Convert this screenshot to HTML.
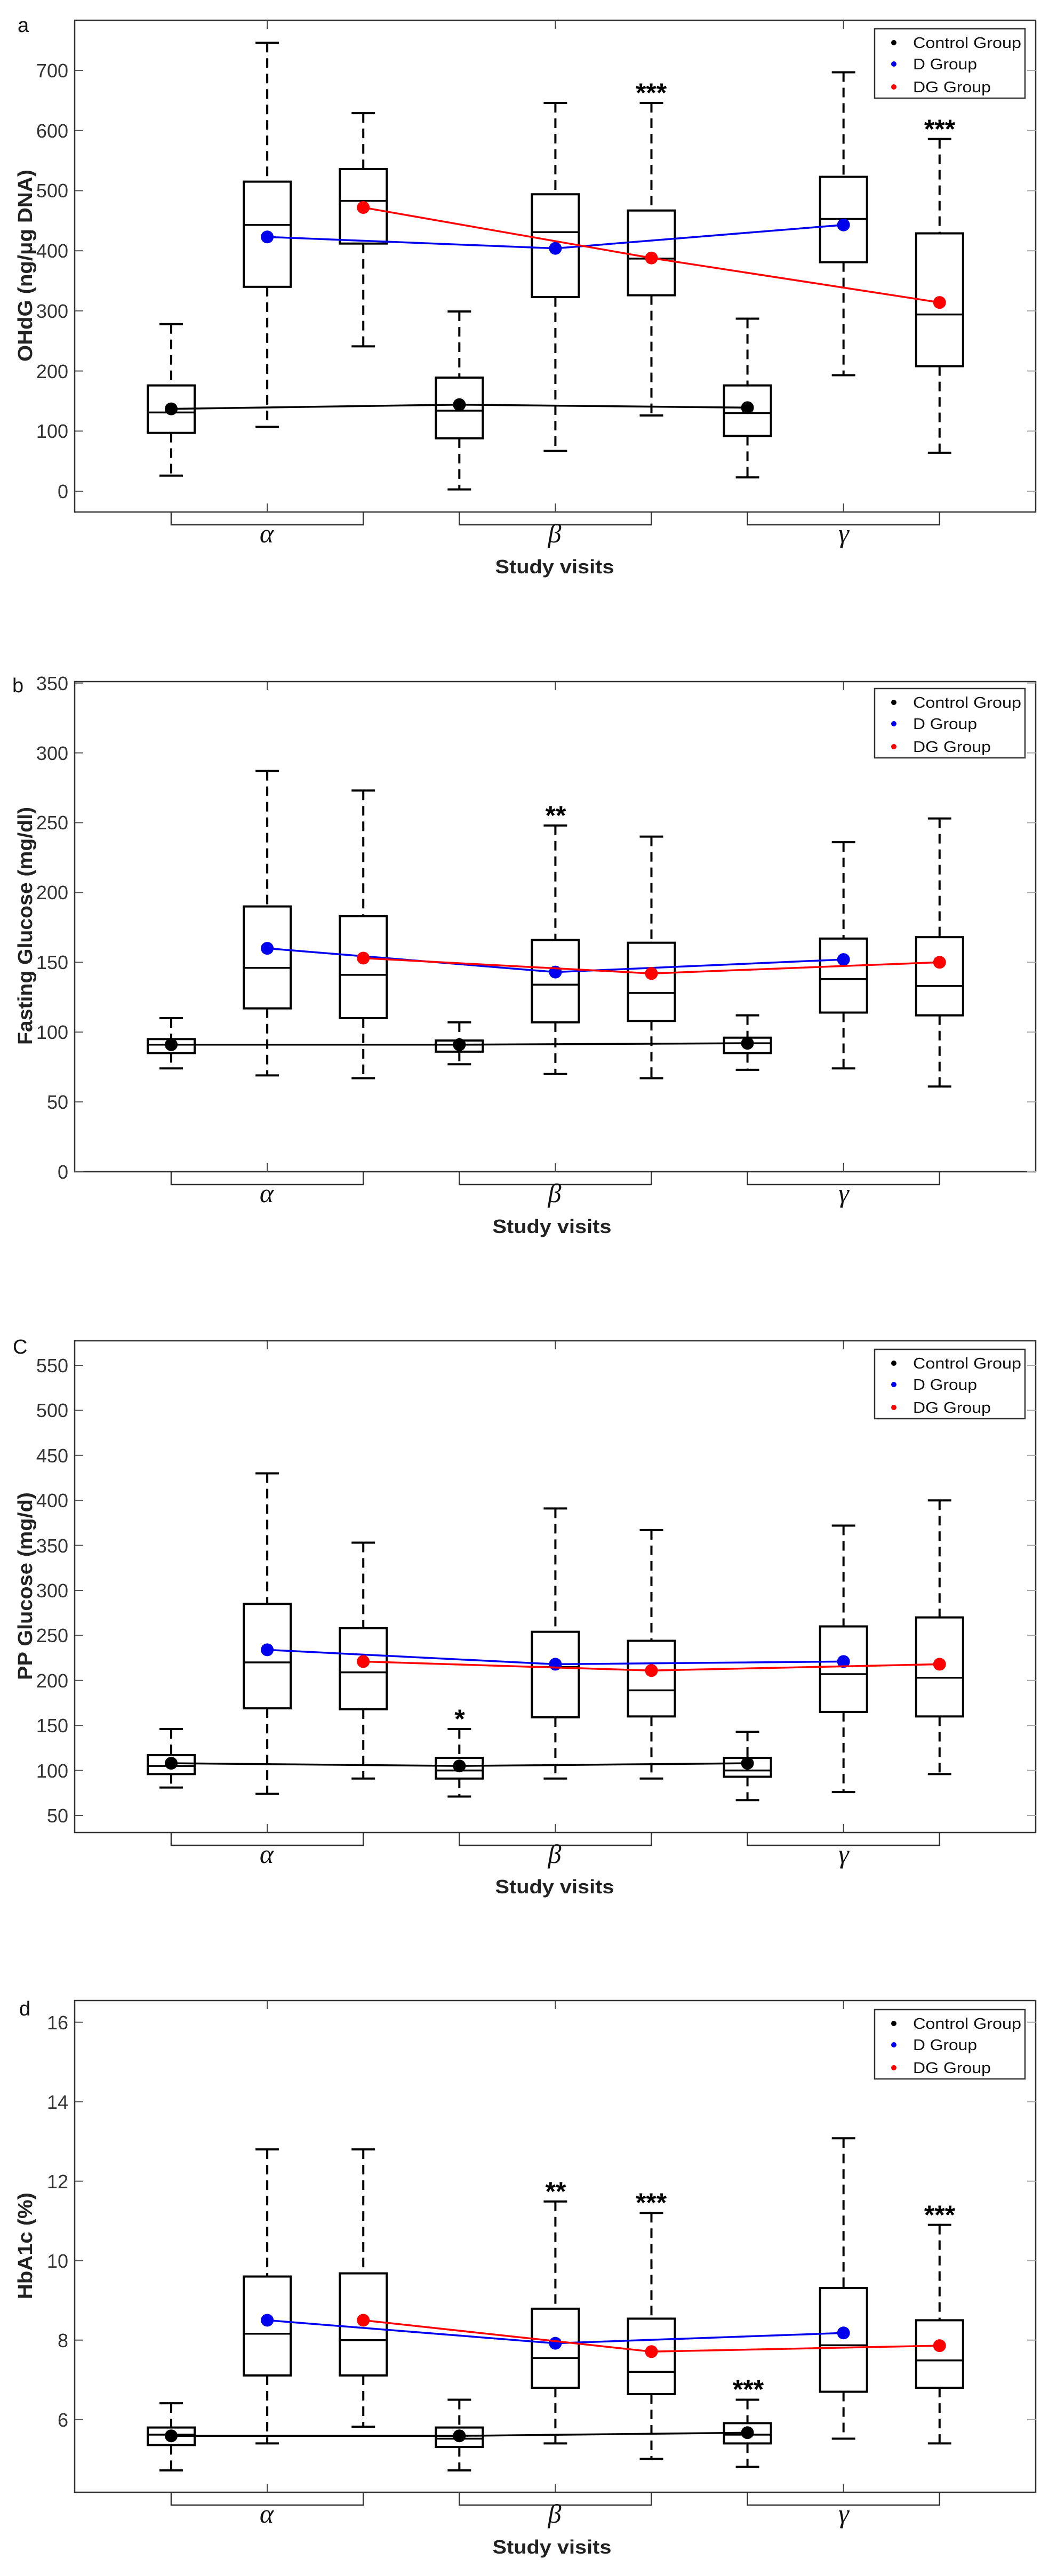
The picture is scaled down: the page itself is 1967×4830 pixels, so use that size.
<!DOCTYPE html>
<html><head><meta charset="utf-8"><style>
html,body{margin:0;padding:0;background:#fff}
svg{display:block}
text{font-family:"Liberation Sans",Arial,sans-serif}
.tk{font-size:36px;fill:#333;text-anchor:end}
.lg{font-size:29px;fill:#111}
.yl{font-size:38px;font-weight:bold;fill:#222;text-anchor:middle}
.sv{font-size:36px;font-weight:bold;fill:#222;text-anchor:middle}
.gr{font-family:"Liberation Serif",serif;font-style:italic;font-size:50px;fill:#111;text-anchor:middle}
.st{font-size:50px;font-weight:bold;fill:#000;text-anchor:middle}
.pl{font-size:38px;fill:#111}
</style></head><body>
<svg id="s" width="1967" height="4830" viewBox="0 0 1967 4830" xmlns="http://www.w3.org/2000/svg">
<rect width="1967" height="4830" fill="#fff"/>
<g id="g"></g>

<!-- Panel a text -->
<text class="pl" x="33" y="60">a</text>
<text class="tk" x="128" y="934">0</text><text class="tk" x="128" y="821">100</text><text class="tk" x="128" y="709">200</text><text class="tk" x="128" y="596">300</text><text class="tk" x="128" y="483">400</text><text class="tk" x="128" y="370">500</text><text class="tk" x="128" y="258">600</text><text class="tk" x="128" y="145">700</text>
<text class="yl" transform="translate(60,498) rotate(-90)" textLength="360" lengthAdjust="spacingAndGlyphs">OHdG (ng/μg DNA)</text>
<text class="gr" x="500" y="1017">α</text><text class="gr" x="1040" y="1017">β</text><text class="gr" x="1582" y="1017">γ</text>
<text class="sv" x="1040" y="1075" textLength="223" lengthAdjust="spacingAndGlyphs">Study visits</text>
<text class="st" x="1221" y="191">***</text><text class="st" x="1762" y="259">***</text>
<text class="lg" x="1712" y="90" textLength="203" lengthAdjust="spacingAndGlyphs">Control Group</text>
<text class="lg" x="1712" y="130" textLength="120" lengthAdjust="spacingAndGlyphs">D Group</text>
<text class="lg" x="1712" y="173" textLength="146" lengthAdjust="spacingAndGlyphs">DG Group</text>

<!-- Panel b text -->
<text class="pl" x="23" y="1298">b</text>
<text class="tk" x="128" y="2210">0</text><text class="tk" x="128" y="2079">50</text><text class="tk" x="128" y="1948">100</text><text class="tk" x="128" y="1817">150</text><text class="tk" x="128" y="1686">200</text><text class="tk" x="128" y="1555">250</text><text class="tk" x="128" y="1425">300</text><text class="tk" x="128" y="1294">350</text>
<text class="yl" transform="translate(60,1736) rotate(-90)" textLength="446" lengthAdjust="spacingAndGlyphs">Fasting Glucose (mg/dl)</text>
<text class="gr" x="500" y="2254">α</text><text class="gr" x="1040" y="2254">β</text><text class="gr" x="1582" y="2254">γ</text>
<text class="sv" x="1035" y="2312" textLength="223" lengthAdjust="spacingAndGlyphs">Study visits</text>
<text class="st" x="1042" y="1546">**</text>
<text class="lg" x="1712" y="1327" textLength="203" lengthAdjust="spacingAndGlyphs">Control Group</text>
<text class="lg" x="1712" y="1367" textLength="120" lengthAdjust="spacingAndGlyphs">D Group</text>
<text class="lg" x="1712" y="1410" textLength="146" lengthAdjust="spacingAndGlyphs">DG Group</text>

<!-- Panel c text -->
<text class="pl" x="24" y="2538">C</text>
<text class="tk" x="128" y="3417">50</text><text class="tk" x="128" y="3333">100</text><text class="tk" x="128" y="3248">150</text><text class="tk" x="128" y="3164">200</text><text class="tk" x="128" y="3079">250</text><text class="tk" x="128" y="2995">300</text><text class="tk" x="128" y="2911">350</text><text class="tk" x="128" y="2826">400</text><text class="tk" x="128" y="2742">450</text><text class="tk" x="128" y="2657">500</text><text class="tk" x="128" y="2573">550</text>
<text class="yl" transform="translate(60,2974) rotate(-90)" textLength="352" lengthAdjust="spacingAndGlyphs">PP Glucose (mg/d)</text>
<text class="gr" x="500" y="3493">α</text><text class="gr" x="1040" y="3493">β</text><text class="gr" x="1582" y="3493">γ</text>
<text class="sv" x="1040" y="3550" textLength="223" lengthAdjust="spacingAndGlyphs">Study visits</text>
<text class="st" x="862" y="3240">*</text>
<text class="lg" x="1712" y="2566" textLength="203" lengthAdjust="spacingAndGlyphs">Control Group</text>
<text class="lg" x="1712" y="2606" textLength="120" lengthAdjust="spacingAndGlyphs">D Group</text>
<text class="lg" x="1712" y="2649" textLength="146" lengthAdjust="spacingAndGlyphs">DG Group</text>

<!-- Panel d text -->
<text class="pl" x="36" y="3779">d</text>
<text class="tk" x="128" y="4550">6</text><text class="tk" x="128" y="4401">8</text><text class="tk" x="128" y="4252">10</text><text class="tk" x="128" y="4103">12</text><text class="tk" x="128" y="3954">14</text><text class="tk" x="128" y="3805">16</text>
<text class="yl" transform="translate(60,4211) rotate(-90)" textLength="200" lengthAdjust="spacingAndGlyphs">HbA1c (%)</text>
<text class="gr" x="500" y="4730">α</text><text class="gr" x="1040" y="4730">β</text><text class="gr" x="1582" y="4730">γ</text>
<text class="sv" x="1035" y="4788" textLength="223" lengthAdjust="spacingAndGlyphs">Study visits</text>
<text class="st" x="1042" y="4126">**</text><text class="st" x="1221" y="4147">***</text><text class="st" x="1403" y="4497">***</text><text class="st" x="1762" y="4170">***</text>
<text class="lg" x="1712" y="3804" textLength="203" lengthAdjust="spacingAndGlyphs">Control Group</text>
<text class="lg" x="1712" y="3844" textLength="120" lengthAdjust="spacingAndGlyphs">D Group</text>
<text class="lg" x="1712" y="3887" textLength="146" lengthAdjust="spacingAndGlyphs">DG Group</text>
</svg>
<script>
(function(){
var NS="http://www.w3.org/2000/svg",g=document.getElementById("g");
function el(t,a){var e=document.createElementNS(NS,t);for(var k in a)e.setAttribute(k,a[k]);g.appendChild(e);return e;}
function ln(x1,y1,x2,y2,c,w,d){var a={x1:x1,y1:y1,x2:x2,y2:y2,stroke:c,"stroke-width":w};if(d)a["stroke-dasharray"]=d;return el("line",a);}
var L=140,R=1942,X=function(i){return 321+180.1*i;};
var P=[
 {top:38,bot:960,y:function(v){return 921-v*1.127;},ticks:[0,100,200,300,400,500,600,700],leg:54,
  b:[[278,176,131,97,26,137],[746,515,443,340,107,423],[629,536,483,412,241,472],[299,189,134,88,3,144],[646,494,431,323,67,404],[646,467,387,326,126,388],[287,176,130,92,23,139],[697,523,453,381,193,443],[586,429,294,208,64,314]]},
 {top:1278,bot:2197,y:function(v){return 2197-v*2.618;},ticks:[0,50,100,150,200,250,300,350],leg:1291,
  b:[[110,95,91,85,74,91],[287,190,146,117,69,160],[273,183,141,110,67,153],[107,94,91,86,77,91],[248,166,134,107,70,143],[240,164,128,108,67,142],[112,96,92,85,73,92],[236,167,138,114,74,152],[253,168,133,112,61,150]]},
 {top:2514,bot:3436,y:function(v){return 3404-(v-50)*1.688;},ticks:[50,100,150,200,250,300,350,400,450,500,550],leg:2530,
  b:[[146,117,105,96,81,108],[430,285,220,169,74,234],[353,258,209,168,91,221],[146,114,100,91,71,105],[391,254,215,159,91,218],[367,244,189,160,91,211],[143,114,100,93,67,108],[372,260,207,165,76,221],[400,270,203,160,96,218]]},
 {top:3751,bot:4673,y:function(v){return 4536.7-(v-6)*74.5;},ticks:[6,8,10,12,14,16],leg:3768,
  b:[[6.41,5.8,5.62,5.36,4.72,5.59],[12.8,9.6,8.16,7.11,5.4,8.5],[12.8,9.68,8.0,7.11,5.82,8.5],[6.5,5.8,5.52,5.31,4.72,5.59],[11.49,8.79,7.55,6.8,5.4,7.92],[11.2,8.54,7.2,6.64,5.01,7.71],[6.5,5.91,5.62,5.4,4.81,5.67],[13.08,9.31,7.87,6.7,5.52,8.18],[10.9,8.5,7.49,6.8,5.4,7.86]]}
];
P.forEach(function(p){
 el("rect",{x:L,y:p.top,width:R-L,height:p.bot-p.top,fill:"none",stroke:"#333","stroke-width":2.5});
 p.ticks.forEach(function(t){var y=p.y(t);ln(L,y,L+16,y,"#555",2);ln(R-16,y,R,y,"#aaa",2);});
 [1,4,7].forEach(function(i){ln(X(i),p.bot,X(i),p.bot-16,"#444",2);ln(X(i),p.top,X(i),p.top+16,"#444",2);});
 [0,3,6].forEach(function(i){var a=X(i),b=X(i+2),y=p.bot+24;
  el("polyline",{points:a+","+p.bot+" "+a+","+y+" "+b+","+y+" "+b+","+p.bot,fill:"none",stroke:"#333","stroke-width":2.5});});
 p.b.forEach(function(d,i){var x=X(i),hw=44,cw=22,Y=p.y;
  ln(x,Y(d[0]),x,Y(d[1]),"#000",4,"18,11");
  ln(x,Y(d[3]),x,Y(d[4]),"#000",4,"18,11");
  ln(x-cw,Y(d[0]),x+cw,Y(d[0]),"#000",4);
  ln(x-cw,Y(d[4]),x+cw,Y(d[4]),"#000",4);
  el("rect",{x:x-hw,y:Y(d[1]),width:2*hw,height:Y(d[3])-Y(d[1]),fill:"none",stroke:"#000","stroke-width":4});
  ln(x-hw,Y(d[2]),x+hw,Y(d[2]),"#000",3.5);
 });
 [[0,"#000"],[1,"#0000ee"],[2,"#ff0000"]].forEach(function(s){
  var pts=[s[0],s[0]+3,s[0]+6].map(function(i){return X(i)+","+p.y(p.b[i][5]);}).join(" ");
  el("polyline",{points:pts,fill:"none",stroke:s[1],"stroke-width":3.5});
  [s[0],s[0]+3,s[0]+6].forEach(function(i){el("circle",{cx:X(i),cy:p.y(p.b[i][5]),r:12,fill:s[1]});});
 });
 var t=p.leg;
 el("rect",{x:1640,y:t,width:282,height:130,fill:"#fff",stroke:"#333","stroke-width":2.5});
 el("circle",{cx:1676,cy:t+26,r:5,fill:"#000"});
 el("circle",{cx:1676,cy:t+66,r:5,fill:"#0000ee"});
 el("circle",{cx:1676,cy:t+109,r:5,fill:"#ff0000"});
});
})();
</script>
</body></html>
